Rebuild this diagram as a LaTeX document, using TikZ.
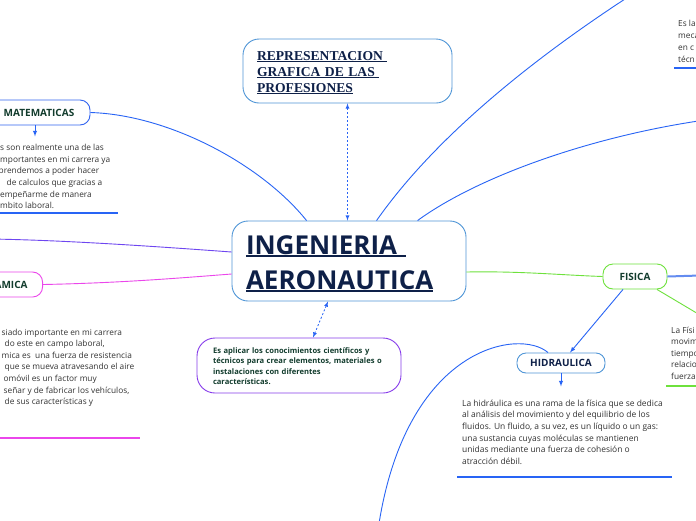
\documentclass[tikz,border=0pt]{standalone}
\usepackage{fontspec}
\setmainfont{Open Sans}
\newfontfamily\titlefont{Liberation Serif}
\usepackage{tikz}
\usetikzlibrary{arrows, shapes, positioning}
\definecolor{lineblue}{RGB}{40,100,245}
\definecolor{boxblue}{RGB}{50,100,240}
\definecolor{paleblue}{RGB}{80,150,215}
\definecolor{darkgreen}{RGB}{18,60,45}
\definecolor{navy}{RGB}{14,32,72}
\definecolor{notegray}{RGB}{50,50,50}
\definecolor{aimpurple}{RGB}{135,60,235}
\definecolor{linepurple}{RGB}{110,70,240}
\definecolor{pink}{RGB}{235,70,235}
\definecolor{limegreen}{RGB}{110,225,60}
\definecolor{fisblue}{RGB}{100,140,240}
\newcommand{\uln}[3]{\leavevmode\setbox0=\hbox{#3}\rlap{\rule[-#2]{\wd0}{#1}}\box0}
\tikzstyle{topic} = [draw, fill=white, rounded corners=10pt, line width=0.9pt, inner sep=0pt,
                     text=darkgreen, font=\bfseries\fontsize{10}{11}\selectfont]
\tikzstyle{note} = [inner sep=0pt, align=left, text=notegray, anchor=north west,
                    font=\fontsize{8.3}{11.6}\selectfont]
\tikzstyle{link} = [line width=0.9pt, draw=lineblue, >=latex]
\tikzstyle{dashlink} = [line width=0.8pt, draw=lineblue, dash pattern=on 2pt off 2pt, <->, >=latex]
\begin{document}
\begin{tikzpicture}[x=1pt, y=-1pt]
				\useasboundingbox (0, 0) rectangle (696, 520);
				\fill[white] (0, 0) rectangle (696, 520);
				\clip (0, 0) rectangle (696, 520);

				\node (Centre) [topic, draw=paleblue, rounded corners=16pt, minimum width=234pt, minimum height=80pt,
					text width=206pt, text height=25pt, align=left, text=navy, font=\bfseries\fontsize{26}{35}\selectfont]
					at (349, 261) {\uln{1.8pt}{2.5pt}{INGENIERIA\ }\\\uln{1.8pt}{2.5pt}{AERONAUTICA}};

				\node (Title) [topic, draw=paleblue, rounded corners=16pt, minimum width=209pt, minimum height=64pt,
					text width=181pt, text height=12pt, align=left, text=navy, font=\titlefont\bfseries\fontsize{13.6}{16}\selectfont]
					at (347.5, 71) {\uln{1.1pt}{1.6pt}{REPRESENTACION\ }\\\uln{1.1pt}{1.6pt}{GRAFICA DE LAS\ }\\\uln{1.1pt}{1.6pt}{PROFESIONES}};
				\draw[dashlink] (Title.south) -- (Title.south |- Centre.north);

				\node (Aim) [topic, draw=aimpurple, rounded corners=18pt, minimum width=204pt, minimum height=55pt,
					text width=172pt, text height=7pt, align=left, font=\bfseries\fontsize{7.6}{10.6}\selectfont]
					at (299, 365.5) {Es aplicar los conocimientos científicos y\\técnicos para crear elementos, materiales o\\instalaciones con diferentes\\características.};
				\draw[dashlink] ([xshift=-21pt]Centre.south) -- ([xshift=14pt]Aim.north);

				\node (Maths) [topic, draw=boxblue, minimum width=102pt, minimum height=25pt] at (39, 112.5) {MATEMATICAS};
				\draw[link] (Maths.east) .. controls (170, 115) and (262, 165) .. ([xshift=75pt]Centre.north west);
				\node (MathsNote) [note] at (0, 144.1) {s son realmente una de las\\mportantes en mi carrera ya\\\hspace*{-1.5pt}prendemos a poder hacer\\\hspace*{6.5pt}de calculos que gracias a\\empeñarme de manera\\mbito laboral.};
				\draw[link, ->] ([xshift=-4pt]Maths.south) -- ++(0, 11);
				\draw[link, line width=1.2pt] (0, 213) -- (118, 213);

				\coordinate (FarTop) at (642, -12);
				\draw[link] ([xshift=145pt]Centre.north west) .. controls (440, 130) and (548, 48) .. (FarTop);
				\coordinate (FarRight) at (720, 118);
				\draw[link] ([xshift=186pt]Centre.north west) .. controls (480, 175) and (600, 133) .. (FarRight);
				\node (CornerNote) [note, font=\fontsize{8.3}{12.2}\selectfont] at (678, 19.6) {Es la\\meca\\en c\\técn};
				\draw[link, line width=1.2pt] (674, 68) -- (696, 68);

				\coordinate (FarLeft) at (-10, 239);
				\draw[line width=0.9pt, linepurple] ([yshift=9pt]Centre.west) .. controls (150, 246) and (60, 240) .. (FarLeft);

				\node (Aero) [topic, draw=pink, minimum height=25pt, text width=80pt, align=right, inner xsep=15pt, anchor=east]
					at (43, 284.5) {AMICA};
				\draw[line width=0.9pt, pink] (Aero.east) .. controls (120, 283) and (180, 278) .. ([yshift=-13pt]Centre.west);
				\node (AeroNote) [note] at (1.5, 328.6) {siado importante en mi carrera\\\hspace*{3pt}do este en campo laboral,\\mica es\ \ una fuerza de resistencia\\\hspace*{3pt}que se mueva atravesando el aire\\\hspace*{2pt}omóvil es un factor muy\\\hspace*{2pt}señar y de fabricar los vehículos,\\\hspace*{3pt}de sus características y};
				\draw[line width=1.2pt, pink] (0, 438) -- (140, 438);

				\node (Phys) [topic, draw=limegreen, minimum width=64pt, minimum height=25pt] at (635, 276.5) {FISICA};
				\draw[line width=0.9pt, limegreen] ([yshift=-11pt]Centre.east) .. controls (520, 271) and (560, 275) .. (Phys.west);
				\coordinate (FisEdge) at (700, 275.5);
				\draw[line width=2pt, fisblue] (Phys.east) -- (FisEdge);
				\coordinate (FisEnd) at (700, 315);
				\draw[line width=0.9pt, limegreen] ([xshift=22pt]Phys.south) -- (FisEnd);
				\node (PhysNote) [note] at (671, 326.6) {La Físi\\movim\\tiempo\\relacio\\fuerza};
				\draw[line width=1.2pt, limegreen] (666, 386) -- (696, 386);

				\node (Hydro) [topic, draw=paleblue, rounded corners=9pt, minimum width=88pt, minimum height=20pt, text=navy]
					at (561, 363) {HIDRAULICA};
				\draw[link, ->] ([xshift=-12pt]Phys.south) -- ([xshift=9pt]Hydro.north);
				\draw[link, ->] (Hydro.south) -- ++(0, 13);
				\coordinate (FarBottom) at (378, 530);
				\draw[link] ([xshift=-13pt]Hydro.north) .. controls (520, 328) and (405, 345) .. (FarBottom);
				\node (HydroNote) [note, font=\fontsize{8.45}{11.7}\selectfont] at (462, 399.5) {La hidráulica es una rama de la física que se dedica\\al análisis del movimiento y del equilibrio de los\\fluidos. Un fluido, a su vez, es un líquido o un gas:\\una sustancia cuyas moléculas se mantienen\\unidas mediante una fuerza de cohesión o\\atracción débil.};
				\draw[link, line width=1.2pt] (457, 477) -- (672, 477);
\end{tikzpicture}
\end{document}
